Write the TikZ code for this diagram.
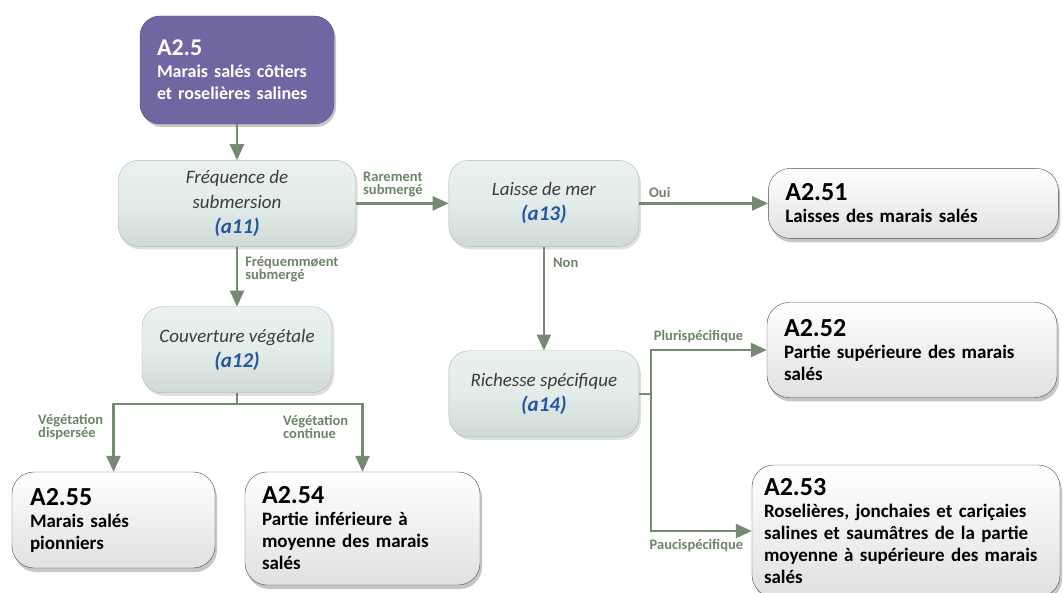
\documentclass[tikz,border=0pt]{standalone}
\usepackage{fontspec}
\setmainfont{Carlito}
\usepackage{tikz}
\usetikzlibrary{positioning,arrows.meta,shadows}
\definecolor{leadfill}{HTML}{6E67A1}
\definecolor{leadedge}{HTML}{4F4983}
\definecolor{critfill}{HTML}{E2ECE8}
\definecolor{critedge}{HTML}{A8B6B1}
\definecolor{flowgreen}{HTML}{748A71}
\definecolor{lblgreen}{HTML}{6B8667}
\definecolor{critblue}{HTML}{2456A4}
\definecolor{critgrey}{HTML}{3C3C3C}
\newcommand{\critcode}[1]{{\color{critblue}\bfseries\fontsize{21}{25}\selectfont #1}}
\newcommand{\habcode}[1]{{\fontsize{26}{22}\selectfont #1}}
\tikzstyle{flow}=[draw=flowgreen,line width=2.5pt,-{Triangle[length=16pt,width=14pt]}]
\tikzstyle{trunk}=[draw=flowgreen,line width=2.5pt]

\begin{document}
\begin{tikzpicture}[x=1pt,y=-1pt,
    lead/.style={rectangle, draw=leadedge, fill=leadfill, rounded corners=20pt, text=white,
           text width=160pt, align=left, minimum width=194pt, minimum height=108pt,
           font=\fontsize{18}{22}\selectfont\bfseries,
           drop shadow={opacity=0.45, shadow xshift=2pt, shadow yshift=-3pt}},
    decision/.style={rectangle, draw=critedge, top color=critfill!70!white, bottom color=critfill!92!black,
           middle color=critfill, rounded corners=20pt, align=center,
           minimum width=190pt, minimum height=86pt, text=critgrey,
           font=\fontsize{19}{25}\selectfont\itshape,
           drop shadow={opacity=0.25, shadow xshift=2pt, shadow yshift=-3pt}},
    habitat/.style={rectangle, draw=black!70, top color=white, middle color=white, bottom color=black!12,
           rounded corners=22pt, align=left,
           font=\fontsize{19}{22}\selectfont\bfseries,
           drop shadow={opacity=0.45, shadow xshift=2pt, shadow yshift=-4pt}},
    lbl/.style={inner sep=0pt, align=left, text=lblgreen, font=\fontsize{14.5}{13}\selectfont\bfseries}
  ]
    \useasboundingbox (0,0) rectangle (1063,593);

    \node [lead] (a25) at (237,70) {{\fontsize{24}{22}\selectfont A2.5}\\Marais salés côtiers\\et roselières salines};
    \node [decision,minimum width=237pt,below=36pt of a25] (a11) {Fréquence de\\submersion\\\critcode{(a11)}};
    \node [decision,right=93pt of a11] (a13) {Laisse de mer\\\critcode{(a13)}};
    \node [habitat,minimum width=290pt,minimum height=70pt,text width=256pt,right=129pt of a13] (a251) {\habcode{A2.51}\\Laisses des marais salés};
    \node [decision,below=60pt of a11] (a12) {Couverture végétale\\\critcode{(a12)}};
    \node [decision,below=104pt of a13] (a14) {Richesse spécifique\\\critcode{(a14)}};
    \node [habitat,minimum width=290pt,minimum height=95pt,text width=256pt] (a252) at (912,350) {\habcode{A2.52}\\Partie supérieure des marais\\salés};
    \node [habitat,minimum width=308pt,minimum height=132pt,text width=284pt] (a253) at (906,531) {\habcode{A2.53}\\Roselières, jonchaies et cariçaies\\salines et saumâtres de la partie\\moyenne à supérieure des marais\\salés};
    \node [habitat,minimum width=203pt,minimum height=96pt,text width=167pt] (a255) at (113.5,520) {\habcode{A2.55}\\Marais salés\\pionniers};
    \node [habitat,minimum width=235pt,minimum height=113pt,text width=201pt] (a254) at (362.5,528.5) {\habcode{A2.54}\\Partie inférieure à\\moyenne des marais\\salés};
    \coordinate [below=11pt of a12] (split);
    \coordinate [right=12pt of a14] (fork);

    % Draw edges
    \draw [flow] (a25) -- (a11);
    \draw [flow] (a11) -- node [lbl,above=5pt,pos=0.4] {Rarement\\submergé} (a13);
    \draw [flow] (a13) -- node [lbl,above=5pt,pos=0.16] {Oui} (a251);
    \draw [flow] (a11) -- node [lbl,right=7pt,pos=0.37] {Fréquemmøent\\submergé} (a12);
    \draw [flow] (a13) -- node [lbl,right=8pt,pos=0.16] {Non} (a14);
    \draw [trunk] (a12) -- (split);
    \draw [flow] (split) -| node [lbl,left=9pt,pos=0.667] {Végétation\\dispersée} (a255);
    \draw [flow] (split) -| node [lbl,left=13pt,pos=0.667] {Végétation\\continue} (a254);
    \draw [trunk] (a14) -- (fork);
    \draw [flow] (fork) |- node [lbl,above=6pt,pos=0.705] {Plurispécifique} (a252);
    \draw [flow] (fork) |- node [lbl,below=7pt,pos=0.725] {Paucispécifique} (a253);
\end{tikzpicture}
\end{document}
